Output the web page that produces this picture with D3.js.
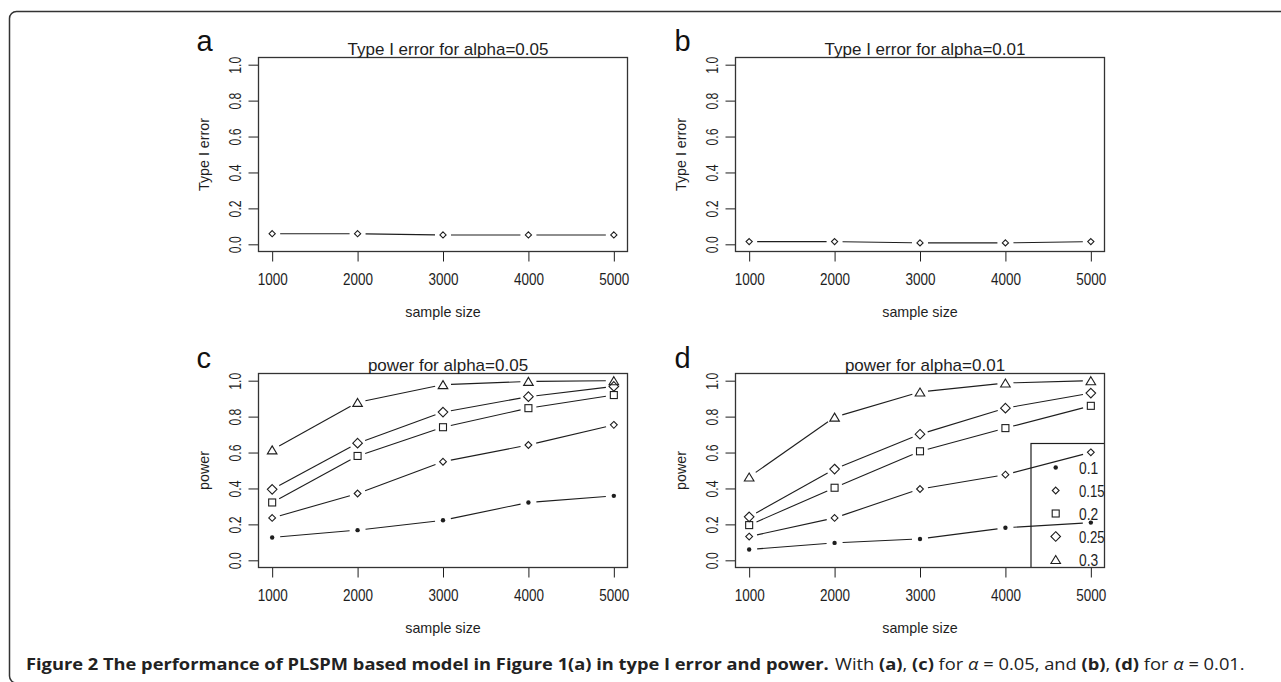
<!DOCTYPE html>
<html>
<head>
<meta charset="utf-8">
<script src="https://cdn.jsdelivr.net/npm/d3@7"></script>
<style>
  body { margin: 0; background: #fff; }
  svg { display: block; }
</style>
</head>
<body>
<svg id="fig" width="1281" height="682"></svg>
<script>
// data
var sampleSizes = [1000, 2000, 3000, 4000, 5000];
var typeI05 = [0.059, 0.059, 0.052, 0.052, 0.052];
var typeI01 = [0.015, 0.015, 0.008, 0.008, 0.015];
var effectLabels = ["0.1", "0.15", "0.2", "0.25", "0.3"];
// one row per effect size, same order as effectLabels
var power05 = [
  [0.127, 0.168, 0.223, 0.322, 0.359],
  [0.236, 0.372, 0.549, 0.642, 0.754],
  [0.322, 0.581, 0.741, 0.847, 0.920],
  [0.395, 0.652, 0.825, 0.911, 0.968],
  [0.615, 0.879, 0.978, 0.996, 1.000]
];
var power01 = [
  [0.060, 0.097, 0.119, 0.181, 0.210],
  [0.132, 0.236, 0.397, 0.477, 0.601],
  [0.196, 0.404, 0.607, 0.736, 0.860],
  [0.242, 0.508, 0.702, 0.847, 0.931],
  [0.464, 0.797, 0.937, 0.987, 1.000]
];
var yTicks = [0, 0.2, 0.4, 0.6, 0.8, 1.0];

var ink = "#1e1e1e";
var sans = "'Liberation Sans', Arial, sans-serif";

var svg = d3.select("#fig");

// figure frame
svg.append("rect")
    .attr("x", 9.5).attr("y", 11.5)
    .attr("width", 1300).attr("height", 671.5)
    .attr("rx", 7)
    .attr("fill", "none")
    .attr("stroke", "#333")
    .attr("stroke-width", 1.5);

var W = 369, H = 194;

// marker shapes, like R pch
function marker(g, kind, cx, cy) {
  if (kind === "dot") {
    g.append("circle").attr("cx", cx).attr("cy", cy).attr("r", 2.2).attr("fill", ink);
  } else if (kind === "dsmall" || kind === "dlarge" || kind === "dtiny") {
    var r = kind === "dlarge" ? 4.8 : kind === "dsmall" ? 3.4 : 3.1;
    g.append("path")
        .attr("d", `M${cx},${cy - r}L${cx + r},${cy}L${cx},${cy + r}L${cx - r},${cy}Z`)
        .attr("fill", "none").attr("stroke", ink).attr("stroke-width", 1.1);
  } else if (kind === "square") {
    g.append("rect").attr("x", cx - 3.5).attr("y", cy - 3.5)
        .attr("width", 7).attr("height", 7)
        .attr("fill", "none").attr("stroke", ink).attr("stroke-width", 1.1);
  } else if (kind === "tri") {
    g.append("path")
        .attr("d", `M${cx},${cy - 4}L${cx + 4.8},${cy + 4}L${cx - 4.8},${cy + 4}Z`)
        .attr("fill", "none").attr("stroke", ink).attr("stroke-width", 1.1);
  }
}

var kinds = ["dot", "dsmall", "square", "dlarge", "tri"];

function panel(opt) {
  var g = svg.append("g").attr("transform", `translate(${opt.left},${opt.top})`);

  var x = d3.scaleLinear().domain([840, 5160]).range([0, W]);
  var y = d3.scaleLinear().domain([-0.04, 1.04]).range([H, 0]);

  // series: R type="b" lines with gaps around points
  opt.series.forEach(function (vals, si) {
    var pts = vals.map((v, i) => [x(sampleSizes[i]), y(v)]);
    var gap = 8;
    for (var i = 0; i < pts.length - 1; i++) {
      var p = pts[i], q = pts[i + 1];
      var dx = q[0] - p[0], dy = q[1] - p[1];
      var len = Math.sqrt(dx * dx + dy * dy);
      if (len <= 2 * gap) continue;
      var ux = dx / len, uy = dy / len;
      g.append("line")
          .attr("x1", p[0] + ux * gap).attr("y1", p[1] + uy * gap)
          .attr("x2", q[0] - ux * gap).attr("y2", q[1] - uy * gap)
          .attr("stroke", ink).attr("stroke-width", 1.1);
    }
    pts.forEach(p => marker(g, opt.kinds[si], p[0], p[1]));
  });

  // axes (R's narrow bitmap look: squeeze labels with textLength)
  var ya = g.append("g").call(d3.axisLeft(y).tickValues(yTicks)
      .tickFormat(d3.format(".1f")).tickSize(10));
  ya.select(".domain").remove();
  ya.selectAll("line").attr("stroke", ink);
  ya.selectAll("text")
      .attr("transform", "rotate(-90)")
      .attr("x", 0).attr("y", -18).attr("dy", 0)
      .attr("text-anchor", "middle")
      .attr("fill", ink)
      .attr("textLength", 17).attr("lengthAdjust", "spacingAndGlyphs")
      .style("font", "16.5px " + sans);

  var xa = g.append("g").attr("transform", `translate(0,${H})`)
      .call(d3.axisBottom(x).tickValues(sampleSizes).tickFormat(d3.format("d")).tickSize(10));
  xa.select(".domain").remove();
  xa.selectAll("line").attr("stroke", ink);
  xa.selectAll("text")
      .attr("y", 33).attr("dy", 0)
      .attr("fill", ink)
      .attr("textLength", 30).attr("lengthAdjust", "spacingAndGlyphs")
      .style("font", "16.5px " + sans);

  // legend, clipped to the plot region
  if (opt.legend) {
    var cid = "clip" + opt.letter;
    g.append("clipPath").attr("id", cid)
      .append("rect").attr("width", W).attr("height", H);
    var lg = g.append("g").attr("clip-path", `url(#${cid})`);
    var lx = 1031 - opt.left, ly = 443.5 - opt.top;
    lg.append("rect").attr("x", lx).attr("y", ly)
        .attr("width", 120).attr("height", 150)
        .attr("fill", "none").attr("stroke", ink).attr("stroke-width", 1.2);
    effectLabels.forEach(function (lab, i) {
      var ry = ly + 24 + i * 23;
      marker(lg, kinds[i], lx + 24.7, ry);
      lg.append("text").attr("x", lx + 48).attr("y", ry + 6)
          .attr("fill", ink).style("font", "17px " + sans)
          .attr("textLength", lab.length * 6.4).attr("lengthAdjust", "spacingAndGlyphs")
          .text(lab);
    });
  }

  // plot box
  g.append("rect").attr("width", W).attr("height", H)
      .attr("fill", "none").attr("stroke", "#333").attr("stroke-width", 1.3);

  // titles and labels
  g.append("text").attr("x", W / 2 + 5).attr("y", -3)
      .attr("text-anchor", "middle").attr("fill", ink)
      .style("font", "17px " + sans).text(opt.title);
  g.append("text").attr("x", W / 2).attr("y", H + 65.5)
      .attr("text-anchor", "middle").attr("fill", ink)
      .style("font", "14.3px " + sans).text("sample size");
  g.append("text")
      .attr("transform", `translate(-49.5,${H / 2}) rotate(-90)`)
      .attr("text-anchor", "middle").attr("fill", ink)
      .style("font", "14.3px " + sans).text(opt.ylab);

  svg.append("text").attr("x", opt.lx).attr("y", opt.ly)
      .attr("fill", "#111").style("font", "29px " + sans).text(opt.letter);
}

panel({ left: 258.5, top: 57.5, letter: "a", lx: 196.5, ly: 50.5,
  title: "Type I error for alpha=0.05", ylab: "Type I error",
  series: [typeI05], kinds: ["dtiny"] });
panel({ left: 735.5, top: 57.5, letter: "b", lx: 674.5, ly: 50.5,
  title: "Type I error for alpha=0.01", ylab: "Type I error",
  series: [typeI01], kinds: ["dtiny"] });
panel({ left: 258.5, top: 373.5, letter: "c", lx: 196.5, ly: 368,
  title: "power for alpha=0.05", ylab: "power",
  series: power05, kinds: kinds });
panel({ left: 735.5, top: 373.5, letter: "d", lx: 674.5, ly: 368,
  title: "power for alpha=0.01", ylab: "power",
  series: power01, kinds: kinds, legend: true });

// caption
var capFont = "16.5px 'Open Sans', 'Noto Sans', sans-serif";
var cap1 = svg.append("text").attr("fill", "#222").style("font", capFont)
    .style("font-weight", "bold")
    .text("Figure 2 The performance of PLSPM based model in Figure 1(a) in type I error and power.");
var w1 = cap1.node().getComputedTextLength();
cap1.attr("transform", `translate(26,670) scale(${803 / w1},1)`);

var cap2 = svg.append("text").attr("fill", "#222").style("font", capFont);
[["With ", 0], ["(a)", 1], [", ", 0], ["(c)", 1], [" for ", 0], ["α", 2], [" = 0.05, and ", 0],
 ["(b)", 1], [", ", 0], ["(d)", 1], [" for ", 0], ["α", 2], [" = 0.01.", 0]].forEach(function (p) {
  cap2.append("tspan").text(p[0])
      .style("font-weight", p[1] === 1 ? "bold" : "normal")
      .style("font-style", p[1] === 2 ? "italic" : "normal");
});
var w2 = cap2.node().getComputedTextLength();
cap2.attr("transform", `translate(835,670) scale(${410 / w2},1)`);
</script>
</body>
</html>
